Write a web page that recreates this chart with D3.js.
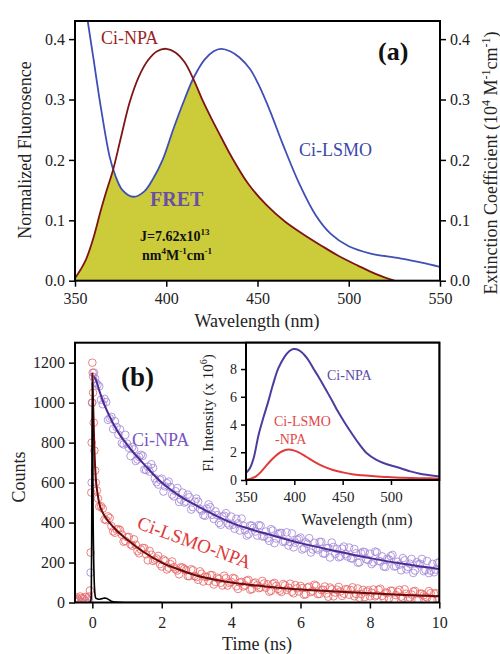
<!DOCTYPE html>
<html>
<head>
<meta charset="utf-8">
<script src="https://cdn.jsdelivr.net/npm/d3@7"></script>
<style>
body { margin: 0; background: #fff; }
svg text { font-family: "Liberation Serif", "Times New Roman", serif; }
</style>
</head>
<body>
<svg id="canvas" width="500" height="654"></svg>
<script>
// panel (a): donor emission and acceptor absorption
let npaWave = [350, 353, 356, 360, 364, 367.4, 371, 375, 380, 385, 390, 395, 400, 405, 410, 415, 420, 425, 430, 436, 445, 455, 465, 475, 485, 495, 505, 515, 525];
let npaEmission = [0.004, 0.018, 0.035, 0.07, 0.115, 0.15, 0.185, 0.235, 0.296, 0.338, 0.365, 0.38, 0.384, 0.378, 0.362, 0.333, 0.298, 0.267, 0.238, 0.204, 0.16, 0.125, 0.098, 0.077, 0.058, 0.04, 0.025, 0.011, 0];

let lsmoWave = [350, 354, 357, 360, 364, 369, 372, 376, 382, 388, 393, 398, 404, 410, 415, 421, 426, 430, 435, 440, 446, 451, 457, 464, 473, 482, 490, 500, 512, 528, 540, 550];
let lsmoAbs = [0.62, 0.5, 0.43, 0.37, 0.29, 0.205, 0.175, 0.15, 0.139, 0.148, 0.17, 0.2, 0.252, 0.3, 0.336, 0.366, 0.38, 0.384, 0.38, 0.37, 0.35, 0.322, 0.28, 0.225, 0.16, 0.108, 0.078, 0.057, 0.045, 0.037, 0.03, 0.023];

let ticksA = [0, 0.1, 0.2, 0.3, 0.4];
let waveTicks = [350, 400, 450, 500, 550];

// panel (b): decays
let npaHeadTime = [-0.5, -0.4, -0.3, -0.2, -0.1, -0.05, -0.02, 0, 0.02, 0.05, 0.08, 0.1, 0.15];
let npaHeadCounts = [5, 8, 3, 6, 10, 150, 600, 1000, 1130, 1150, 1120, 1100, 1090];
let lsmoHeadTime = [-0.5, -0.45, -0.4, -0.35, -0.3, -0.25, -0.2, -0.15, -0.1, -0.07, -0.05, -0.03, -0.02, -0.01, 0, 0.01, 0.02, 0.04, 0.06, 0.08, 0.1, 0.13, 0.16];
let lsmoHeadCounts = [20, 25, 15, 30, 22, 18, 28, 20, 30, 60, 250, 550, 800, 1000, 1200, 1150, 1050, 900, 760, 660, 600, 560, 520];

let tailTime = [0.2, 0.3, 0.4, 0.5, 0.6, 0.7, 0.8, 0.9, 1.0, 1.1, 1.2, 1.3, 1.4, 1.5, 1.6, 1.7, 1.8, 1.9, 2.0,
  2.1, 2.2, 2.3, 2.4, 2.5, 2.6, 2.7, 2.8, 2.9, 3.0, 3.1, 3.2, 3.3, 3.4, 3.5, 3.6, 3.7, 3.8, 3.9, 4.0,
  4.1, 4.2, 4.3, 4.4, 4.5, 4.6, 4.7, 4.8, 4.9, 5.0, 5.1, 5.2, 5.3, 5.4, 5.5, 5.6, 5.7, 5.8, 5.9, 6.0,
  6.1, 6.2, 6.3, 6.4, 6.5, 6.6, 6.7, 6.8, 6.9, 7.0, 7.1, 7.2, 7.3, 7.4, 7.5, 7.6, 7.7, 7.8, 7.9, 8.0,
  8.1, 8.2, 8.3, 8.4, 8.5, 8.6, 8.7, 8.8, 8.9, 9.0, 9.1, 9.2, 9.3, 9.4, 9.5, 9.6, 9.7, 9.8, 9.9, 10.0];
let tailTimeHalf = [0.25, 0.35, 0.45, 0.55, 0.65, 0.75, 0.85, 0.95, 1.05, 1.15, 1.25, 1.35, 1.45, 1.55, 1.65, 1.75, 1.85, 1.95,
  2.05, 2.15, 2.25, 2.35, 2.45, 2.55, 2.65, 2.75, 2.85, 2.95, 3.05, 3.15, 3.25, 3.35, 3.45, 3.55, 3.65, 3.75, 3.85, 3.95,
  4.05, 4.15, 4.25, 4.35, 4.45, 4.55, 4.65, 4.75, 4.85, 4.95, 5.05, 5.15, 5.25, 5.35, 5.45, 5.55, 5.65, 5.75, 5.85, 5.95,
  6.05, 6.15, 6.25, 6.35, 6.45, 6.55, 6.65, 6.75, 6.85, 6.95, 7.05, 7.15, 7.25, 7.35, 7.45, 7.55, 7.65, 7.75, 7.85, 7.95,
  8.05, 8.15, 8.25, 8.35, 8.45, 8.55, 8.65, 8.75, 8.85, 8.95, 9.05, 9.15, 9.25, 9.35, 9.45, 9.55, 9.65, 9.75, 9.85, 9.95];

let npaTailCounts = [1082, 992, 1003, 922, 868, 878, 866, 791, 795, 733, 766, 716, 739, 665, 680, 692, 621, 590, 620,
  581, 605, 540, 557, 503, 550, 505, 527, 477, 520, 468, 437, 470, 477, 418, 437, 389, 434, 396, 430,
  369, 396, 420, 361, 342, 385, 355, 387, 330, 355, 308, 360, 320, 348, 303, 351, 303, 276, 314, 325,
  271, 294, 250, 299, 265, 303, 244, 273, 300, 243, 226, 270, 242, 275, 220, 246, 201, 254, 216, 244,
  201, 251, 205, 180, 219, 232, 180, 204, 161, 211, 178, 218, 160, 191, 218, 163, 147, 193, 165, 200];
let npaHalfCounts = [1015, 1019, 914, 929, 907, 840, 797, 839, 774, 778, 708, 728, 734, 663, 655, 673, 602, 614,
  555, 597, 578, 531, 573, 515, 500, 540, 465, 505, 505, 459, 434, 491, 439, 456, 398, 430, 447, 386,
  389, 419, 360, 384, 335, 385, 374, 335, 384, 332, 322, 367, 297, 343, 348, 306, 285, 346, 299, 319,
  265, 301, 322, 265, 271, 303, 246, 272, 225, 278, 268, 230, 280, 230, 221, 268, 199, 246, 252, 212,
  192, 255, 209, 231, 178, 215, 238, 182, 189, 222, 166, 194, 148, 202, 193, 157, 208, 159, 151, 199];

let lsmoTailCounts = [480, 470, 412, 423, 356, 365, 362, 304, 327, 291, 316, 257, 265, 272, 211, 239, 214, 233, 180,
  208, 174, 205, 166, 141, 175, 161, 132, 161, 127, 156, 105, 128, 137, 90, 124, 99, 134, 85, 103,
  120, 68, 103, 86, 113, 67, 100, 72, 108, 74, 54, 93, 83, 59, 92, 63, 94, 46, 71, 83,
  39, 75, 52, 89, 42, 62, 80, 29, 66, 50, 78, 33, 67, 39, 76, 43, 24, 63, 55, 31,
  65, 36, 69, 21, 47, 59, 15, 52, 29, 66, 19, 40, 58, 12, 44, 29, 57, 12, 47, 19];
let lsmoHalfCounts = [482, 416, 431, 382, 349, 367, 340, 308, 328, 284, 289, 246, 273, 241, 258, 208, 220, 192,
  215, 165, 192, 177, 160, 176, 168, 132, 166, 132, 113, 144, 129, 107, 137, 103, 118, 85, 121, 98,
  123, 81, 100, 80, 109, 64, 96, 86, 75, 95, 91, 59, 98, 68, 53, 86, 74, 54, 87, 55,
  72, 41, 79, 58, 84, 43, 64, 45, 75, 31, 64, 55, 44, 65, 62, 31, 70, 42, 27, 61,
  49, 31, 64, 33, 50, 20, 58, 37, 63, 22, 44, 25, 55, 11, 45, 36, 25, 47, 44, 13];

let npaFitTime = [0.05, 0.1, 0.2, 0.3, 0.5, 0.75, 1.0, 1.5, 2.0, 2.5, 3.0, 3.5, 4.0, 4.5, 5, 6, 7, 8, 9, 10];
let npaFitCounts = [1130, 1115, 1060, 1010, 930, 850, 790, 690, 600, 535, 485, 440, 400, 370, 345, 297, 258, 222, 193, 168];
let lsmoFitTime = [0, 0.03, 0.06, 0.1, 0.15, 0.2, 0.3, 0.4, 0.5, 0.7, 1.0, 1.5, 2.0, 2.5, 3.0, 3.5, 4.0, 4.5, 5, 6, 7, 8, 9, 10];
let lsmoFitCounts = [1150, 950, 760, 620, 545, 495, 450, 420, 398, 360, 315, 250, 200, 165, 135, 115, 100, 89, 80, 65, 55, 46, 38, 31];

let irfTime = [-0.1, -0.05, -0.03, -0.02, -0.01, 0, 0.01, 0.02, 0.04, 0.06, 0.08, 0.1, 0.15, 0.2, 0.25, 0.3, 0.35, 0.4, 0.45, 0.5, 0.55, 0.6, 0.8, 1.0, 1.5, 2];
let irfCounts = [0, 2, 40, 300, 800, 1100, 900, 500, 200, 80, 35, 22, 18, 16, 18, 20, 22, 21, 17, 12, 6, 3, 1, 0, 0, 0];

let countTicks = [0, 200, 400, 600, 800, 1000, 1200];
let timeTicks = [0, 2, 4, 6, 8, 10];

// inset: steady-state emission
let insetWaveNpa = [350, 354, 358, 363, 368, 373, 378, 383.5, 390, 395, 399, 405, 410, 415, 420, 425, 432, 440, 445, 452, 460, 467, 475, 485, 495, 510, 520, 530, 540, 550];
let insetNpa = [0.5, 0.84, 1.6, 3.25, 4.5, 5.65, 6.9, 8.06, 8.9, 9.3, 9.44, 9.35, 9.05, 8.6, 8.0, 7.45, 6.6, 5.6, 4.95, 4.15, 3.3, 2.6, 1.93, 1.45, 1.15, 0.85, 0.62, 0.45, 0.35, 0.25];
let insetWaveLsmo = [350, 355, 360, 365, 370, 375, 380, 385, 390, 394, 400, 405, 410, 415, 420, 425, 430, 440, 450, 460, 470, 480, 490, 500, 510, 520, 530, 540, 550];
let insetLsmo = [0.0, 0.1, 0.25, 0.55, 0.95, 1.35, 1.7, 1.98, 2.15, 2.2, 2.12, 1.98, 1.78, 1.56, 1.35, 1.15, 0.98, 0.72, 0.55, 0.42, 0.34, 0.28, 0.23, 0.2, 0.17, 0.15, 0.13, 0.12, 0.11];
let insetTicksY = [0, 2, 4, 6, 8];
let insetTicksX = [350, 400, 450, 500];

let canvas = d3.select('#canvas');

let xA, yA, xB, yB, xI, yI;

const styleAxis = (g, size) => {
  g.select('.domain').remove();
  g.selectAll('.tick line').attr('stroke', '#000').attr('stroke-width', 1.5);
  g.selectAll('.tick text')
    .attr('font-size', size)
    .attr('fill', '#222')
    .attr('font-family', 'Liberation Serif');
};

const box = (x0, y0, x1, y1) => {
  canvas.append('rect')
    .attr('x', x0).attr('y', y0)
    .attr('width', x1 - x0).attr('height', y1 - y0)
    .attr('fill', 'none')
    .attr('stroke', '#000')
    .attr('stroke-width', 2);
};

const createScales = () => {
  xA = d3.scaleLinear().domain([350, 550]).range([75, 440]);
  yA = d3.scaleLinear().domain([0, 0.43]).range([280.7, 21]);
  xB = d3.scaleLinear().domain([-0.5, 10]).range([75, 439.3]);
  yB = d3.scaleLinear().domain([0, 1300]).range([602.5, 342.7]);
  xI = d3.scaleLinear().domain([350, 550]).range([246, 439.3]);
  yI = d3.scaleLinear().domain([0, 9.9]).range([480, 342.7]);
};

const drawPanelA = () => {
  let defs = canvas.append('defs');
  defs.append('clipPath').attr('id', 'clipA')
    .append('rect').attr('x', 75).attr('y', 21).attr('width', 365).attr('height', 259.7);

  let area = d3.area()
    .x(d => xA(d[0])).y0(yA(0)).y1(d => yA(d[1]))
    .curve(d3.curveCatmullRom);
  // overlap region: area under emission clipped by area under absorption
  defs.append('clipPath').attr('id', 'clipBlue')
    .append('path').attr('d', area(d3.zip(lsmoWave, lsmoAbs)));

  let g = canvas.append('g').attr('clip-path', 'url(#clipA)');

  g.append('g').attr('clip-path', 'url(#clipBlue)')
    .append('path')
    .attr('d', area(d3.zip(npaWave, npaEmission)))
    .attr('fill', '#cccc3a');

  let line = d3.line().x(d => xA(d[0])).y(d => yA(d[1])).curve(d3.curveCatmullRom);
  g.append('path').attr('d', line(d3.zip(lsmoWave, lsmoAbs)))
    .attr('fill', 'none').attr('stroke', '#3f4fb5').attr('stroke-width', 1.8);
  g.append('path').attr('d', line(d3.zip(npaWave, npaEmission)))
    .attr('fill', 'none').attr('stroke', '#7d1515').attr('stroke-width', 1.8);

  let left = canvas.append('g').attr('transform', 'translate(75,0)')
    .call(d3.axisLeft(yA).tickValues(ticksA).tickFormat(d3.format('.1f')).tickSize(6).tickPadding(4));
  styleAxis(left, 16);
  let right = canvas.append('g').attr('transform', 'translate(440,0)')
    .call(d3.axisRight(yA).tickValues(ticksA).tickFormat(d3.format('.1f')).tickSize(6).tickPadding(4));
  styleAxis(right, 16);
  let bottom = canvas.append('g').attr('transform', 'translate(0,280.7)')
    .call(d3.axisBottom(xA).tickValues(waveTicks).tickSize(6).tickPadding(6));
  styleAxis(bottom, 16);

  box(75, 21, 440, 280.7);

  canvas.append('text').attr('x', 257).attr('y', 327).attr('text-anchor', 'middle')
    .attr('font-size', 18).attr('fill', '#222').text('Wavelength (nm)');
  canvas.append('text').attr('transform', 'translate(31,150) rotate(-90)').attr('text-anchor', 'middle')
    .attr('font-size', 18).attr('fill', '#222').text('Normalized Fluorosence');

  let ext = canvas.append('text').attr('transform', 'translate(497,163) rotate(-90)').attr('text-anchor', 'middle')
    .attr('font-size', 18).attr('fill', '#222');
  ext.append('tspan').text('Extinction Coefficient (10');
  ext.append('tspan').attr('font-size', 12).attr('dy', -7).text('4');
  ext.append('tspan').attr('dy', 7).text(' M');
  ext.append('tspan').attr('font-size', 12).attr('dy', -7).text('-1');
  ext.append('tspan').attr('dy', 7).text('cm');
  ext.append('tspan').attr('font-size', 12).attr('dy', -7).text('-1');
  ext.append('tspan').attr('dy', 7).text(')');

  canvas.append('text').attr('x', 101).attr('y', 44).attr('font-size', 18).attr('fill', '#9a1f1f').text('Ci-NPA');
  canvas.append('text').attr('x', 299).attr('y', 156).attr('font-size', 18).attr('fill', '#3a48a8').text('Ci-LSMO');
  canvas.append('text').attr('x', 378).attr('y', 60).attr('font-size', 26).attr('font-weight', 'bold').attr('fill', '#111').text('(a)');
  canvas.append('text').attr('x', 150).attr('y', 206).attr('font-size', 20).attr('font-weight', 'bold').attr('fill', '#6a4fa5').text('FRET');

  let j = canvas.append('text').attr('x', 140).attr('y', 241).attr('font-size', 14).attr('font-weight', 'bold').attr('fill', '#111');
  j.append('tspan').text('J=7.62x10');
  j.append('tspan').attr('font-size', 9).attr('dy', -6).text('13');
  let u = canvas.append('text').attr('x', 142).attr('y', 260).attr('font-size', 14).attr('font-weight', 'bold').attr('fill', '#111');
  u.append('tspan').text('nm');
  u.append('tspan').attr('font-size', 9).attr('dy', -6).text('4');
  u.append('tspan').attr('dy', 6).text('M');
  u.append('tspan').attr('font-size', 9).attr('dy', -6).text('-1');
  u.append('tspan').attr('dy', 6).text('cm');
  u.append('tspan').attr('font-size', 9).attr('dy', -6).text('-1');
};

const drawPanelB = () => {
  canvas.select('defs').append('clipPath').attr('id', 'clipB')
    .append('rect').attr('x', 75).attr('y', 342.7).attr('width', 364.3).attr('height', 259.8);
  let g = canvas.append('g').attr('clip-path', 'url(#clipB)');

  let npaPts = d3.zip(npaHeadTime.concat(tailTime, tailTimeHalf), npaHeadCounts.concat(npaTailCounts, npaHalfCounts));
  let lsmoPts = d3.zip(lsmoHeadTime.concat(tailTime, tailTimeHalf), lsmoHeadCounts.concat(lsmoTailCounts, lsmoHalfCounts));

  g.append('g').selectAll('circle').data(npaPts).enter().append('circle')
    .attr('cx', d => xB(d[0])).attr('cy', d => yB(d[1])).attr('r', 3.8)
    .attr('fill', 'none').attr('stroke', '#a68ad8').attr('stroke-width', 1)
    .attr('stroke-opacity', 0.85);
  g.append('g').selectAll('circle').data(lsmoPts).enter().append('circle')
    .attr('cx', d => xB(d[0])).attr('cy', d => yB(d[1])).attr('r', 3.8)
    .attr('fill', 'none').attr('stroke', '#ea6a6a').attr('stroke-width', 1)
    .attr('stroke-opacity', 0.85);

  let line = d3.line().x(d => xB(d[0])).y(d => yB(d[1])).curve(d3.curveMonotoneX);
  g.append('path').attr('d', line(d3.zip(npaFitTime, npaFitCounts)))
    .attr('fill', 'none').attr('stroke', '#4a2b92').attr('stroke-width', 2);
  g.append('path').attr('d', line(d3.zip(lsmoFitTime, lsmoFitCounts)))
    .attr('fill', 'none').attr('stroke', '#6a0b0b').attr('stroke-width', 2);
  g.append('path').attr('d', line(d3.zip(irfTime, irfCounts)))
    .attr('fill', 'none').attr('stroke', '#000').attr('stroke-width', 1.6);

  let left = canvas.append('g').attr('transform', 'translate(75,0)')
    .call(d3.axisLeft(yB).tickValues(countTicks).tickFormat(d3.format('d')).tickSize(6).tickPadding(4));
  styleAxis(left, 16);
  let bottom = canvas.append('g').attr('transform', 'translate(0,602.5)')
    .call(d3.axisBottom(xB).tickValues(timeTicks).tickSize(6).tickPadding(8));
  styleAxis(bottom, 16);

  box(75, 342.7, 439.3, 602.5);

  canvas.append('text').attr('x', 257).attr('y', 650).attr('text-anchor', 'middle')
    .attr('font-size', 18).attr('fill', '#222').text('Time (ns)');
  canvas.append('text').attr('transform', 'translate(25,477) rotate(-90)').attr('text-anchor', 'middle')
    .attr('font-size', 18).attr('fill', '#222').text('Counts');

  canvas.append('text').attr('x', 121).attr('y', 386).attr('font-size', 27).attr('font-weight', 'bold').attr('fill', '#111').text('(b)');
  canvas.append('text').attr('x', 132).attr('y', 446).attr('font-size', 18).attr('fill', '#7a56c2').text('Ci-NPA');
  canvas.append('text').attr('transform', 'translate(136,528) rotate(20)')
    .attr('font-size', 19).attr('fill', '#e03a3a').text('Ci-LSMO-NPA');
};

const drawInset = () => {
  canvas.append('rect').attr('x', 246).attr('y', 342.7).attr('width', 193.3).attr('height', 137.3).attr('fill', '#fff');

  let line = d3.line().x(d => xI(d[0])).y(d => yI(d[1])).curve(d3.curveCatmullRom);
  canvas.append('path').attr('d', line(d3.zip(insetWaveNpa, insetNpa)))
    .attr('fill', 'none').attr('stroke', '#4b3d9e').attr('stroke-width', 2);
  canvas.append('path').attr('d', line(d3.zip(insetWaveLsmo, insetLsmo)))
    .attr('fill', 'none').attr('stroke', '#e23a3a').attr('stroke-width', 2);

  let left = canvas.append('g').attr('transform', 'translate(246,0)')
    .call(d3.axisLeft(yI).tickValues(insetTicksY).tickSize(5).tickPadding(4));
  styleAxis(left, 14);
  let bottom = canvas.append('g').attr('transform', 'translate(0,480)')
    .call(d3.axisBottom(xI).tickValues(insetTicksX).tickSize(5).tickPadding(6));
  styleAxis(bottom, 15);

  box(246, 342.7, 439.3, 480);

  canvas.append('text').attr('x', 357).attr('y', 525).attr('text-anchor', 'middle')
    .attr('font-size', 16).attr('fill', '#222').text('Wavelength (nm)');
  let fl = canvas.append('text').attr('transform', 'translate(213,413) rotate(-90)').attr('text-anchor', 'middle')
    .attr('font-size', 15).attr('fill', '#222');
  fl.append('tspan').text('Fl. Intensity (x 10');
  fl.append('tspan').attr('font-size', 10).attr('dy', -6).text('6');
  fl.append('tspan').attr('dy', 6).text(')');

  canvas.append('text').attr('x', 327).attr('y', 380).attr('font-size', 14).attr('fill', '#5a4aa8').text('Ci-NPA');
  canvas.append('text').attr('x', 274).attr('y', 426).attr('font-size', 14).attr('fill', '#e04848').text('Ci-LSMO');
  canvas.append('text').attr('x', 275).attr('y', 444).attr('font-size', 14).attr('fill', '#e04848').text('-NPA');
};

createScales();
drawPanelA();
drawPanelB();
drawInset();
</script>
</body>
</html>
